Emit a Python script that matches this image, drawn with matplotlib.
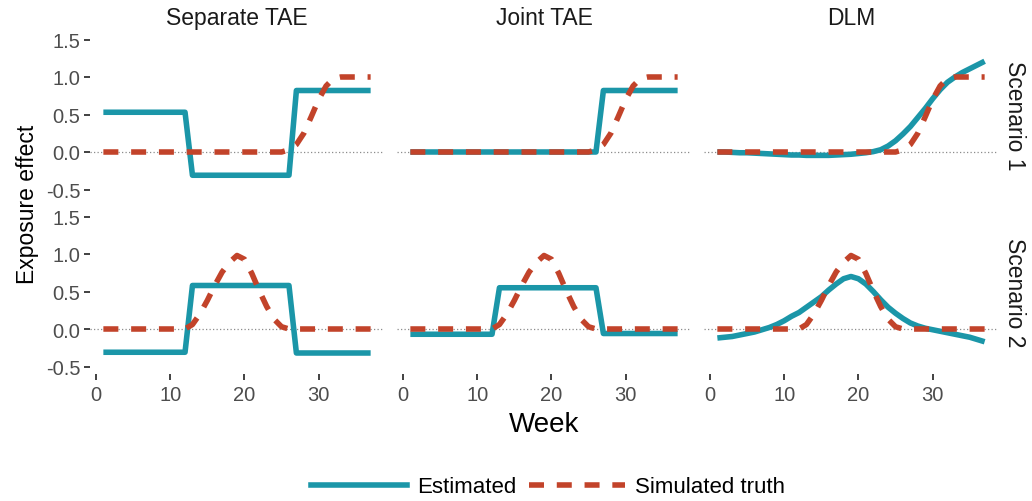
import numpy as np
import matplotlib
matplotlib.use("Agg")
import matplotlib.pyplot as plt
from matplotlib.lines import Line2D

plt.rcParams['font.family'] = ['Liberation Sans', 'DejaVu Sans']

weeks = np.arange(1, 38)

methods = ["Separate TAE", "Joint TAE", "DLM"]
scenarios = ["Scenario 1", "Scenario 2"]

# Simulated (true) lagged exposure effects
truth_s1 = [0.0] * 25 + [0.03, 0.10, 0.25, 0.47, 0.70, 0.88, 0.98, 1.0, 1.0, 1.0, 1.0, 1.0]
truth_s2 = ([0.0] * 12 + [0.06, 0.20, 0.38, 0.58, 0.76, 0.89, 0.98, 0.93, 0.74, 0.51,
                          0.30, 0.13, 0.03] + [0.0] * 12)

# Estimated effects by method
sep_s1 = [0.53] * 12 + [-0.31] * 14 + [0.82] * 11
sep_s2 = [-0.31] * 12 + [0.58] * 14 + [-0.32] * 11
joint_s1 = [0.0] * 26 + [0.82] * 11
joint_s2 = [-0.07] * 12 + [0.55] * 14 + [-0.06] * 11
dlm_s1 = [0.0, 0.0, -0.005, -0.01, -0.01, -0.015, -0.02, -0.025, -0.03, -0.035,
          -0.04, -0.04, -0.045, -0.045, -0.045, -0.045, -0.04, -0.035, -0.03, -0.02,
          -0.01, 0.005, 0.03, 0.08, 0.15, 0.24, 0.34, 0.46, 0.58, 0.71,
          0.83, 0.93, 1.0, 1.06, 1.11, 1.16, 1.21]
dlm_s2 = [-0.12, -0.11, -0.10, -0.08, -0.06, -0.04, -0.01, 0.02, 0.06, 0.11,
          0.17, 0.22, 0.29, 0.36, 0.43, 0.52, 0.60, 0.67, 0.70, 0.67,
          0.60, 0.50, 0.39, 0.29, 0.21, 0.14, 0.08, 0.04, 0.01, -0.01,
          -0.03, -0.05, -0.07, -0.09, -0.11, -0.14, -0.17]

estimates = {
    ("Scenario 1", "Separate TAE"): sep_s1,
    ("Scenario 2", "Separate TAE"): sep_s2,
    ("Scenario 1", "Joint TAE"): joint_s1,
    ("Scenario 2", "Joint TAE"): joint_s2,
    ("Scenario 1", "DLM"): dlm_s1,
    ("Scenario 2", "DLM"): dlm_s2,
}
truths = {"Scenario 1": truth_s1, "Scenario 2": truth_s2}

x_ticks = [0, 10, 20, 30]
y_ticks = [-0.5, 0.0, 0.5, 1.0, 1.5]
y_ticklabels = ["-0.5", "0.0", "0.5", "1.0", "1.5"]

TEAL = "#1B96A8"
RED = "#C2432A"
TICK_GREY = "#4D4D4D"
STRIP_GREY = "#1A1A1A"
W, H = 1032, 502

fig = plt.figure(figsize=(W / 100, H / 100), dpi=100)

col_left = [90, 397, 704]
panel_w = 294
row_top = [33, 210]
panel_h = 165
dash = (2.7, 2.3)
lw = 4.0

for r, scen in enumerate(scenarios):
    for c, meth in enumerate(methods):
        ax = fig.add_axes([col_left[c] / W, 1 - (row_top[r] + panel_h) / H,
                           panel_w / W, panel_h / H])
        ax.axhline(0, color="#8C8C8C", lw=0.9, ls=(0, (1, 1.8)), zorder=1)
        ax.plot(weeks, estimates[(scen, meth)], color=TEAL, lw=lw,
                solid_joinstyle="round", solid_capstyle="butt", zorder=2)
        ax.plot(weeks, truths[scen], color=RED, lw=lw, dashes=dash,
                dash_capstyle="butt", zorder=3)
        ax.set_xlim(-0.8, 38.8)
        ax.set_ylim(-0.6, 1.6)
        for s in ax.spines.values():
            s.set_visible(False)
        ax.set_xticks(x_ticks)
        ax.set_yticks(y_ticks)
        ax.tick_params(axis="both", length=4, width=1.3, color="#333333",
                       labelsize=14.5, labelcolor=TICK_GREY)
        ax.tick_params(axis="y", pad=3)
        ax.tick_params(axis="x", pad=4)
        if c == 0:
            ax.set_yticklabels(y_ticklabels)
        else:
            ax.tick_params(axis="y", left=False, labelleft=False)
        if r == 0:
            ax.tick_params(axis="x", bottom=False, labelbottom=False)
            ax.set_title(meth, fontsize=16.5, color=STRIP_GREY, pad=6)
        if c == 2:
            fig.text(1015 / W, 1 - (row_top[r] + panel_h / 2) / H, scen,
                     rotation=270, ha="center", va="center", fontsize=16.5,
                     color=STRIP_GREY)

fig.text(544 / W, 1 - 425 / H, "Week", ha="center", va="center", fontsize=20)
fig.text(28 / W, 1 - 204 / H, "Exposure effect", ha="center", va="center",
         rotation=90, fontsize=16.5)

handles = [
    Line2D([], [], color=TEAL, lw=lw),
    Line2D([], [], color=RED, lw=lw, dashes=dash, dash_capstyle="butt"),
]
fig.legend(handles, ["Estimated", "Simulated truth"], loc="center",
           bbox_to_anchor=(548 / W, 1 - 488 / H), ncol=2, frameon=False,
           fontsize=16, handlelength=4.3, handletextpad=0.45,
           columnspacing=0.6, borderpad=0)

fig.savefig("out.png", dpi=100)
